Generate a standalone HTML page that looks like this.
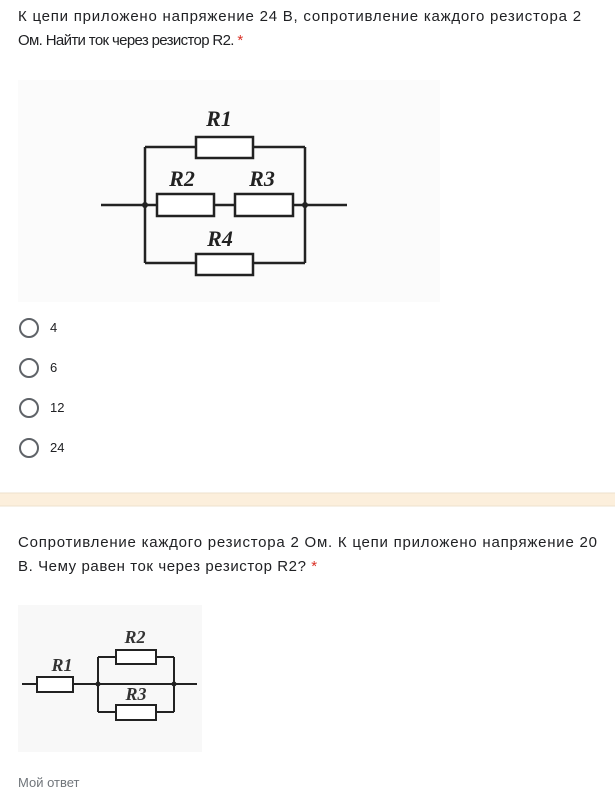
<!DOCTYPE html>
<html><head><meta charset="utf-8"><style>
body{margin:0;width:615px;height:785px;background:#fff;position:relative;overflow:hidden;font-family:"Liberation Sans",sans-serif;color:#202124}
.t{position:absolute;left:18px;font-size:15px;white-space:nowrap}
.r{color:#d93025}
.c{position:absolute;left:19px;width:16px;height:16px;border:2px solid #5f6368;border-radius:50%}
.o{position:absolute;left:50px;font-size:13px}
</style></head><body>
<div class="t" style="top:8px;letter-spacing:0.77px">К цепи приложено напряжение 24 В, сопротивление каждого резистора 2</div>
<div class="t" style="top:32px;letter-spacing:-0.65px">Ом. Найти ток через резистор R2. <span class="r">*</span></div>
<svg style="position:absolute;left:0;top:0" width="615" height="785">
<rect x="18" y="80" width="422" height="222" fill="#fbfbfb"/>
<g stroke="#222" stroke-width="2.5" fill="#fff">
<path d="M101 205H347M145 147V263M305 147V263M145 147H305M145 263H305" fill="none"/>
<rect x="196" y="137" width="57" height="21"/>
<rect x="157" y="194" width="57" height="22"/>
<rect x="235" y="194" width="58" height="22"/>
<rect x="196" y="254" width="57" height="21"/>
</g>
<circle cx="145" cy="205" r="3" fill="#222"/><circle cx="305" cy="205" r="3" fill="#222"/>
<g font-family="Liberation Serif,serif" font-style="italic" font-weight="bold" font-size="22" fill="#222" text-anchor="middle">
<text x="219" y="126">R1</text><text x="182" y="186">R2</text><text x="262" y="186">R3</text><text x="220" y="246">R4</text>
</g>
<rect x="0" y="493" width="615" height="13" fill="#fcefdc"/>
<line x1="0" y1="493" x2="615" y2="493" stroke="#eee0cc"/>
<line x1="0" y1="506" x2="615" y2="506" stroke="#eee0cc"/>
<rect x="18" y="605" width="184" height="147" fill="#f8f8f8"/>
<g stroke="#222" stroke-width="2" fill="#fff">
<path d="M22 684H197M98 657V712M174 657V712M98 657H174M98 712H174" fill="none"/>
<rect x="37" y="677" width="36" height="15"/>
<rect x="116" y="650" width="40" height="14"/>
<rect x="116" y="705" width="40" height="15"/>
</g>
<circle cx="98" cy="684" r="2.5" fill="#222"/><circle cx="174" cy="684" r="2.5" fill="#222"/>
<g font-family="Liberation Serif,serif" font-style="italic" font-weight="bold" font-size="18" fill="#333" text-anchor="middle">
<text x="135" y="643">R2</text><text x="62" y="671">R1</text><text x="136" y="700">R3</text>
</g>
</svg>
<div class="c" style="top:318px"></div><div class="o" style="top:320px">4</div>
<div class="c" style="top:358px"></div><div class="o" style="top:360px">6</div>
<div class="c" style="top:398px"></div><div class="o" style="top:400px">12</div>
<div class="c" style="top:438px"></div><div class="o" style="top:440px">24</div>
<div class="t" style="top:534px;letter-spacing:0.77px">Сопротивление каждого резистора 2 Ом. К цепи приложено напряжение 20</div>
<div class="t" style="top:558px;letter-spacing:0.58px">В. Чему равен ток через резистор R2? <span class="r">*</span></div>
<div style="position:absolute;left:18px;top:775px;font-size:13px;color:#70757a">Мой ответ</div>
</body></html>
